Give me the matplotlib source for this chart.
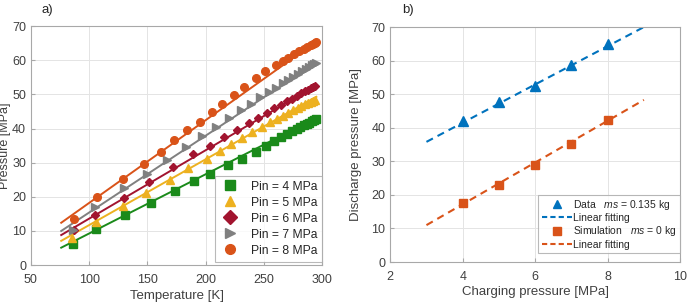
import matplotlib
matplotlib.use("Agg")
import matplotlib.pyplot as plt
from matplotlib.lines import Line2D

# === DATA: panel a) ===
T_4 = [86, 106, 131, 153, 174, 190, 204, 219, 231, 243, 252, 259, 265, 270, 274, 278, 281, 284, 287, 289, 291, 293, 295]
P_4 = [6.1, 10.6, 14.6, 18.2, 21.8, 24.5, 26.8, 29.3, 31.2, 33.2, 35.0, 36.4, 37.6, 38.5, 39.3, 39.9, 40.5, 40.9, 41.4, 41.7, 42.1, 42.4, 42.8]
T_5 = [85, 106, 129, 149, 169, 185, 201, 212, 222, 231, 240, 248, 255, 261, 266, 271, 275, 279, 282, 285, 288, 290, 292, 294]
P_5 = [7.8, 12.7, 17.3, 21.2, 24.9, 28.3, 31.2, 33.4, 35.4, 37.2, 39.0, 40.5, 41.8, 42.9, 43.8, 44.6, 45.4, 46.1, 46.6, 47.1, 47.6, 47.9, 48.2, 48.5]
T_6 = [87, 105, 130, 151, 172, 189, 204, 216, 227, 237, 245, 253, 259, 265, 270, 274, 278, 282, 285, 288, 290, 292, 294]
P_6 = [10.2, 14.8, 19.7, 24.2, 28.6, 32.4, 35.0, 37.4, 39.6, 41.6, 43.2, 44.7, 45.9, 47.0, 48.0, 48.8, 49.6, 50.3, 50.9, 51.4, 51.8, 52.1, 52.4]
T_7 = [86, 105, 130, 150, 167, 183, 197, 209, 220, 230, 239, 247, 254, 260, 266, 271, 275, 279, 283, 286, 289, 291, 293, 295]
P_7 = [10.4, 16.9, 22.5, 26.8, 30.8, 34.6, 37.8, 40.6, 43.1, 45.3, 47.3, 49.1, 50.6, 51.9, 53.2, 54.2, 55.1, 56.0, 56.8, 57.4, 58.0, 58.5, 58.9, 59.3]
T_8 = [87, 107, 129, 147, 162, 173, 184, 195, 205, 214, 224, 233, 243, 251, 260, 266, 271, 276, 280, 284, 287, 290, 292, 294, 295]
P_8 = [13.4, 20.0, 25.1, 29.5, 33.2, 36.6, 39.7, 42.0, 44.9, 47.3, 49.8, 52.2, 54.9, 57.0, 58.6, 59.7, 60.8, 61.8, 62.6, 63.3, 63.9, 64.4, 64.8, 65.1, 65.3]

# linear fit end points (T from 76 to 295 K)
FIT_T = [76, 295]
FIT_4 = [5.1, 43.1]
FIT_5 = [7.1, 49.3]
FIT_6 = [8.8, 52.7]
FIT_7 = [10.0, 59.3]
FIT_8 = [12.4, 65.5]

# === DATA: panel b) ===
PIN = [4, 5, 6, 7, 8]
P_DATA = [42.0, 47.6, 52.4, 58.6, 64.9]
P_SIM = [17.7, 22.9, 28.9, 35.3, 42.3]
FIT_X = [3, 9]
FIT_DATA = [35.8, 70.0]
FIT_SIM = [11.0, 48.3]

GREEN = '#1a8a1a'
YELLOW = '#edb120'
RED = '#a2142f'
GRAY = '#808080'
ORANGE = '#d95319'
BLUE = '#0072bd'

plt.rcParams['font.family'] = ['Liberation Sans', 'DejaVu Sans']
plt.rcParams['mathtext.fontset'] = 'custom'
plt.rcParams['mathtext.it'] = 'Liberation Sans:italic'
plt.rcParams['mathtext.rm'] = 'Liberation Sans'

TXT = '#404040'
SPINE = '#a8a8a8'


def style_axes(ax):
    for s in ax.spines.values():
        s.set_color(SPINE)
        s.set_linewidth(0.8)
    ax.grid(True, color='#e4e4e4', linewidth=0.7)
    ax.set_axisbelow(True)
    ax.tick_params(direction='in', length=3, color=SPINE, labelcolor=TXT,
                   labelsize=9, top=False, right=False)
    ax.tick_params(axis='x', pad=6.5)


fig = plt.figure(figsize=(6.87, 3.04), dpi=100)

# === panel a) ===
ax1 = fig.add_axes([0.045, 0.128, 0.424, 0.786])
series = [
    (T_4, P_4, FIT_4, GREEN, 's', 'Pin = 4 MPa'),
    (T_5, P_5, FIT_5, YELLOW, '^', 'Pin = 5 MPa'),
    (T_6, P_6, FIT_6, RED, 'D', 'Pin = 6 MPa'),
    (T_7, P_7, FIT_7, GRAY, '>', 'Pin = 7 MPa'),
    (T_8, P_8, FIT_8, ORANGE, 'o', 'Pin = 8 MPa'),
]
handles = []
for t, p, fit, col, mk, lab in series:
    ax1.plot(FIT_T, fit, color=col, lw=1.4, zorder=2)
    ms = 4.5 if mk == 'D' else 5.5
    ax1.plot(t, p, ls='none', marker=mk, color=col, ms=ms, zorder=3)
    handles.append(Line2D([], [], ls='none', marker=mk, color=col, ms=7, label=lab))

ax1.set_xlim(50, 300)
ax1.set_ylim(0, 70)
ax1.set_xticks(range(50, 301, 50))
ax1.set_yticks(range(0, 71, 10))
style_axes(ax1)
ax1.set_xlabel('Temperature [K]', fontsize=9.5, color=TXT)
ax1.set_ylabel('Pressure [MPa]', fontsize=9, color=TXT)
ax1.xaxis.set_label_coords(0.5, -0.106)
ax1.yaxis.set_label_coords(-0.068, 0.5)
leg1 = ax1.legend(handles=handles, loc='lower right', bbox_to_anchor=(1.0, 0.015),
                  fontsize=8.7, frameon=True, fancybox=False, edgecolor=SPINE,
                  handlelength=1.8, handletextpad=0.8, labelspacing=0.33,
                  borderaxespad=0.0)
leg1.get_frame().set_linewidth(0.8)
for t in leg1.get_texts():
    t.set_color('#262626')

# === panel b) ===
ax2 = fig.add_axes([0.568, 0.138, 0.422, 0.773])
ax2.plot(FIT_X, FIT_DATA, ls='--', color=BLUE, lw=1.5, dashes=(3.5, 2.5), zorder=2)
ax2.plot(PIN, P_DATA, ls='none', marker='^', color=BLUE, ms=6.5, zorder=3)
ax2.plot(FIT_X, FIT_SIM, ls='--', color=ORANGE, lw=1.5, dashes=(3.5, 2.5), zorder=2)
ax2.plot(PIN, P_SIM, ls='none', marker='s', color=ORANGE, ms=6, zorder=3)
ax2.set_xlim(2, 10)
ax2.set_ylim(0, 70)
ax2.set_xticks(range(2, 11, 2))
ax2.set_yticks(range(0, 71, 10))
style_axes(ax2)
ax2.set_xlabel('Charging pressure [MPa]', fontsize=9.5, color=TXT)
ax2.set_ylabel('Discharge pressure [MPa]', fontsize=9.5, color=TXT)
ax2.xaxis.set_label_coords(0.5, -0.104)
ax2.yaxis.set_label_coords(-0.097, 0.5)
handles2 = [
    Line2D([], [], ls='none', marker='^', color=BLUE, ms=6,
           label=r'Data   $\mathit{ms}$ = 0.135 kg'),
    Line2D([], [], ls='--', color=BLUE, lw=1.5, dashes=(2.5, 1.5), label='Linear fitting'),
    Line2D([], [], ls='none', marker='s', color=ORANGE, ms=6,
           label=r'Simulation   $\mathit{ms}$ = 0 kg'),
    Line2D([], [], ls='--', color=ORANGE, lw=1.5, dashes=(2.5, 1.5), label='Linear fitting'),
]
leg2 = ax2.legend(handles=handles2, loc='lower right', bbox_to_anchor=(1.0, 0.04),
                  fontsize=7.5, frameon=True, fancybox=False, edgecolor=SPINE,
                  handlelength=2.9, handletextpad=0.15, labelspacing=0.12,
                  borderpad=0.3, borderaxespad=0.0)
leg2.get_frame().set_linewidth(0.8)
for t in leg2.get_texts():
    t.set_color('#262626')

fig.text(0.061, 0.967, 'a)', fontsize=9.5, color='#262626', va='center')
fig.text(0.586, 0.967, 'b)', fontsize=9.5, color='#262626', va='center')

fig.savefig('out.png', dpi=100)
